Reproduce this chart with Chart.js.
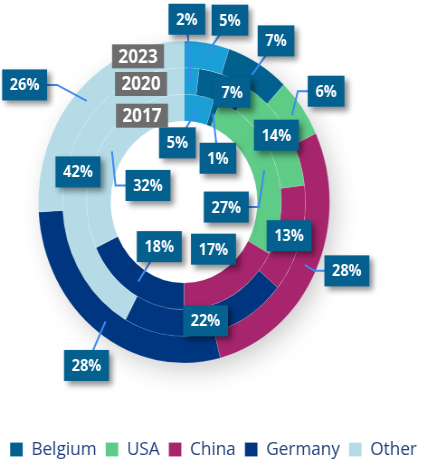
<!DOCTYPE html>
<html>
<head>
<meta charset="utf-8">
<script src="https://cdn.jsdelivr.net/npm/chart.js@4.4.1/dist/chart.umd.min.js"></script>
<style>
html,body{margin:0;padding:0;background:#fff;overflow:hidden;width:427px;height:463px}
canvas{display:block}
</style>
</head>
<body>
<canvas id="c" width="472" height="469" style="width:427px;height:469px"></canvas>
<script>
// ---- data ----
const categories = ['Unspecified', 'Belgium', 'USA', 'China', 'Germany', 'Other'];
const legendCategories = ['Belgium', 'USA', 'China', 'Germany', 'Other'];
const years = ['2023', '2020', '2017'];
const share2023 = [5, 7, 6, 28, 28, 26];
const share2020 = [2, 7, 14, 13, 22, 42];
const share2017 = [5, 1, 27, 17, 18, 32];

// ---- style ----
const colors = ['#1c9fd6', '#02608f', '#5ecb87', '#a6256c', '#00367f', '#b4dbe6'];
const SX = 427 / 472;              // horizontal squeeze of the drawing
const CENTER = {x: 184, y: 202};   // screen px
const RADIUS = 161;
const LABEL_BOX = '#03608f';
const LEADER = '#3d8af0';

// label placement: screen-px offset of box from slice centroid, and leader style
const labelPlacement = [
  [[25,-36,'line'], [24,-34,'line'], [34,-24,'elbow'], [42,6,'elbow'], [-19,44,'line'], [-62,-16,'elbow']],
  [[-4,-62,'line'], [11,4,'none'], [0,-2,'none'], [0,0,'none'], [1,0,'none'], [0,0,'none']],
  [[-20,34,'line'], [5,45,'line'], [-38,37,'elbow'], [-14,-34,'none'], [21,-35,'line'], [36,34,'elbow']]
];
const yearPlacement = [[-46,2],[-43,3],[-42,8]];

const layoutPlugin = {
  id: 'placeDoughnut',
  afterLayout(chart) {
    const cx = CENTER.x / SX, cy = CENTER.y, r = RADIUS + 1;
    chart.chartArea = {left: cx - r, right: cx + r, top: cy - r, bottom: cy + r, width: 2 * r, height: 2 * r};
  },
  beforeDatasetsDraw(chart) {
    const arc = chart.getDatasetMeta(0).data[0];
    if (!arc) return;
    const ctx = chart.ctx;
    ctx.save();
    ctx.shadowColor = 'rgba(0,0,0,0.22)';
    ctx.shadowBlur = 28;
    ctx.shadowOffsetX = 7;
    ctx.shadowOffsetY = 8;
    ctx.fillStyle = '#fff';
    ctx.beginPath();
    ctx.arc(arc.x, arc.y, arc.outerRadius - 2, 0, Math.PI * 2);
    ctx.fill();
    ctx.restore();
  }
};

const labelPlugin = {
  id: 'sliceLabels',
  afterDatasetsDraw(chart) {
    const ctx = chart.ctx;
    const items = [];
    chart.data.datasets.forEach((ds, i) => {
      const meta = chart.getDatasetMeta(i);
      meta.data.forEach((arc, j) => {
        const p = arc.getProps(['x','y','startAngle','endAngle','innerRadius','outerRadius'], true);
        const a = (p.startAngle + p.endAngle) / 2;
        const r = (p.innerRadius + p.outerRadius) / 2;
        const ax = p.x + Math.cos(a) * r, ay = p.y + Math.sin(a) * r;
        const pl = labelPlacement[i][j];
        items.push({ax, ay, bx: ax + pl[0] / SX, by: ay + pl[1], kind: pl[2], text: ds.data[j] + '%'});
      });
    });
    ctx.save();
    ctx.font = 'bold 16px "Open Sans"';
    items.forEach(it => { it.w = ctx.measureText(it.text).width + 17; it.h = 31; });
    // leaders
    ctx.strokeStyle = LEADER;
    ctx.lineWidth = 2;
    items.forEach(it => {
      if (it.kind === 'none') return;
      ctx.beginPath();
      ctx.moveTo(it.ax, it.ay);
      if (it.kind === 'elbow') {
        const ex = it.ax < it.bx ? it.bx - it.w / 2 - 11 : it.bx + it.w / 2 + 11;
        ctx.lineTo(ex, it.by);
      }
      ctx.lineTo(it.bx, it.by);
      ctx.stroke();
    });
    // boxes
    items.forEach(it => {
      ctx.save();
      ctx.shadowColor = 'rgba(0,0,0,0.45)';
      ctx.shadowBlur = 6;
      ctx.shadowOffsetX = 4;
      ctx.shadowOffsetY = 4;
      ctx.fillStyle = LABEL_BOX;
      ctx.fillRect(it.bx - it.w / 2, it.by - it.h / 2, it.w, it.h);
      ctx.restore();
      ctx.fillStyle = '#fff';
      ctx.textAlign = 'center';
      ctx.textBaseline = 'middle';
      ctx.fillText(it.text, it.bx, it.by + 1);
    });
    // year tags
    ctx.font = 'bold 19px "Open Sans"';
    chart.data.datasets.forEach((ds, i) => {
      const arc = chart.getDatasetMeta(i).data[0];
      const r = (arc.innerRadius + arc.outerRadius) / 2;
      const x = arc.x + yearPlacement[i][0] / SX, y = arc.y - r + yearPlacement[i][1];
      const w = ctx.measureText(ds.label).width + 14, h = 24;
      ctx.fillStyle = '#6d6d6d';
      ctx.fillRect(x - w / 2, y - h / 2, w, h);
      ctx.fillStyle = '#fff';
      ctx.textAlign = 'center';
      ctx.textBaseline = 'middle';
      ctx.fillText(ds.label, x, y + 1);
    });
    ctx.restore();
  }
};

const seriesByYear = [share2023, share2020, share2017];

new Chart(document.getElementById('c'), {
  type: 'doughnut',
  data: {
    labels: categories,
    datasets: years.map((y, i) => ({
      label: y,
      data: seriesByYear[i],
      backgroundColor: colors,
      borderColor: 'rgba(255,255,255,0.2)',
      borderWidth: 0.8
    }))
  },
  options: {
    responsive: false,
    devicePixelRatio: 1,
    animation: false,
    radius: RADIUS,
    cutout: '50.3%',
    plugins: {
      tooltip: {enabled: false},
      legend: {
        position: 'bottom',
        labels: {
          boxWidth: 14,
          boxHeight: 14,
          padding: 10,
          color: '#1f3f7c',
          font: {family: '"Open Sans"', size: 19},
          filter: item => legendCategories.includes(item.text)
        }
      }
    }
  },
  plugins: [layoutPlugin, labelPlugin]
});
</script>
</body>
</html>
